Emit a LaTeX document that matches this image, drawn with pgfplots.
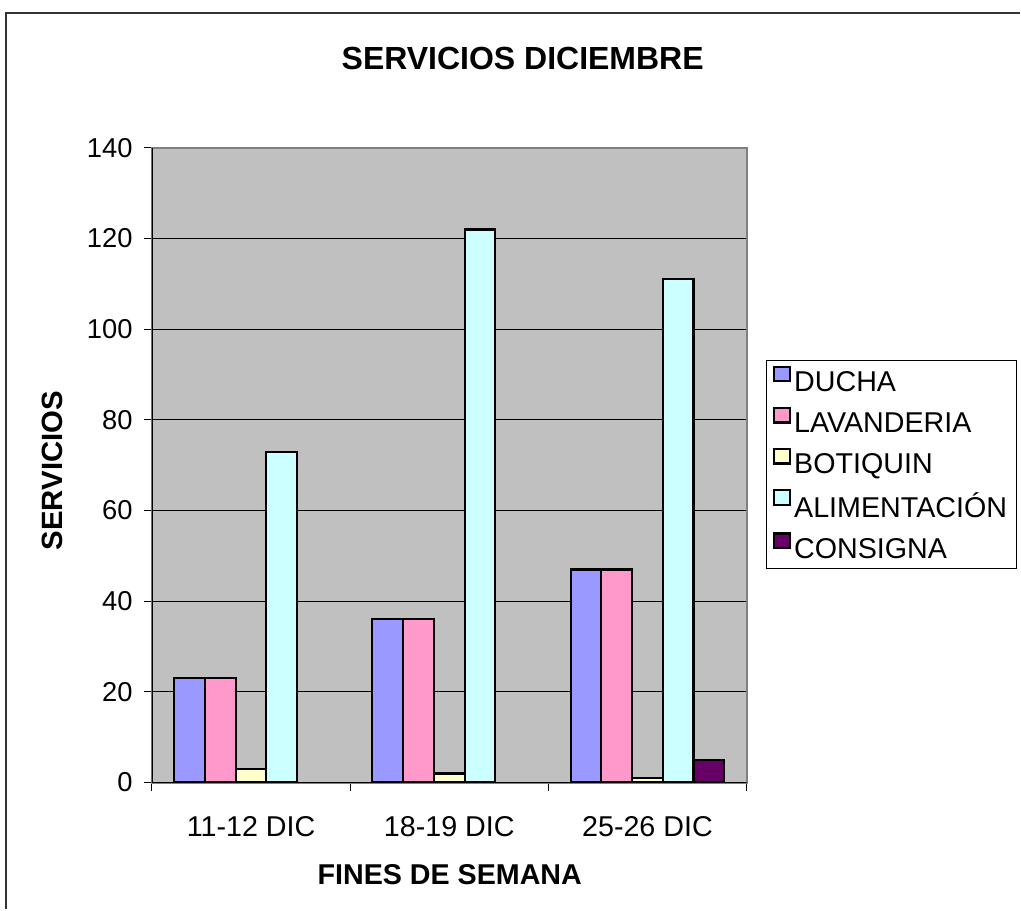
\documentclass[border=0pt]{standalone}
\usepackage{pgfplots}
\pgfplotsset{compat=1.18}
\usepackage{fontspec}
\setmainfont{Liberation Sans}
\definecolor{ducha}{HTML}{9999FF}
\definecolor{lavanderia}{HTML}{FF99CC}
\definecolor{botiquin}{HTML}{FFFFCC}
\definecolor{alimentacion}{HTML}{CCFFFF}
\definecolor{consigna}{HTML}{660066}
\definecolor{plotgray}{HTML}{C0C0C0}
\definecolor{bordergray}{HTML}{808080}
\begin{document}
\begin{tikzpicture}[x=0.75pt,y=0.75pt]
\path (0,0) rectangle (1021,910);
\draw[line width=0.9pt, draw=black!80] (6,0) -- (6,897) -- (1021,897);
\begin{axis}[
  at={(114pt,95.25pt)}, anchor=south west,
  scale only axis, width=446.25pt, height=476.25pt,
  xmin=-0.5, xmax=2.5, ymin=0, ymax=140,
  ytick={0,20,...,140},
  xtick={0,1,2},
  xticklabels={11-12 DIC,18-19 DIC,25-26 DIC},
  minor xtick={-0.5,0.5,1.5,2.5},
  ybar=0pt, bar width=0.155,
  axis background/.style={fill=plotgray},
  ymajorgrids, major grid style={black, line width=0.75pt},
  axis line style={draw=bordergray, line width=1.5pt},
  tick align=outside, tick pos=left,
  major tick length=6pt, minor tick length=6pt,
  major x tick style={draw=none},
  minor tick style={black, line width=0.75pt},
  major y tick style={black, line width=0.75pt},
  /pgf/number format/assume math mode=true,
  yticklabel style={font=\fontsize{20.5}{24}\selectfont, xshift=-5pt},
  xticklabel style={font=\fontsize{21.5}{24}\selectfont, yshift=-16pt},
  legend style={at={(1.032,0.666)}, anchor=north west, draw=black, line width=0.75pt,
    fill=white, font=\fontsize{21.5}{25}\selectfont, row sep=7.8pt, inner xsep=5pt, inner ysep=4pt,
    nodes={inner xsep=2.5pt}},
  legend cell align=left,
  legend image code/.code={\path (0pt,-5.5pt); \draw[#1, draw=black, line width=1.6pt] (0pt,1pt) rectangle (12pt,12pt);},
  every axis plot/.append style={draw=black, line width=1.6pt},
]
\addplot[fill=ducha] coordinates {(0,23) (1,36) (2,47)};
\addplot[fill=lavanderia] coordinates {(0,23) (1,36) (2,47)};
\addplot[fill=botiquin] coordinates {(0,3) (1,2) (2,1)};
\addplot[fill=alimentacion] coordinates {(0,73) (1,122) (2,111)};
\addplot[fill=consigna] coordinates {(2,5)};
\legend{DUCHA,LAVANDERIA,BOTIQUIN,ALIMENTACIÓN,CONSIGNA}
\draw[black, line width=1pt] (rel axis cs:0,0) -- (rel axis cs:1,0);
\draw[black, line width=1pt] (rel axis cs:0,0) -- (rel axis cs:0,1);
\end{axis}
\node[font=\bfseries\fontsize{24}{28}\selectfont] at (523,851) {SERVICIOS DICIEMBRE};
\node[font=\bfseries\fontsize{21.5}{24}\selectfont] at (450,35) {FINES DE SEMANA};
\node[font=\bfseries\fontsize{22}{24}\selectfont, rotate=90] at (52,439) {SERVICIOS};
\end{tikzpicture}
\end{document}
